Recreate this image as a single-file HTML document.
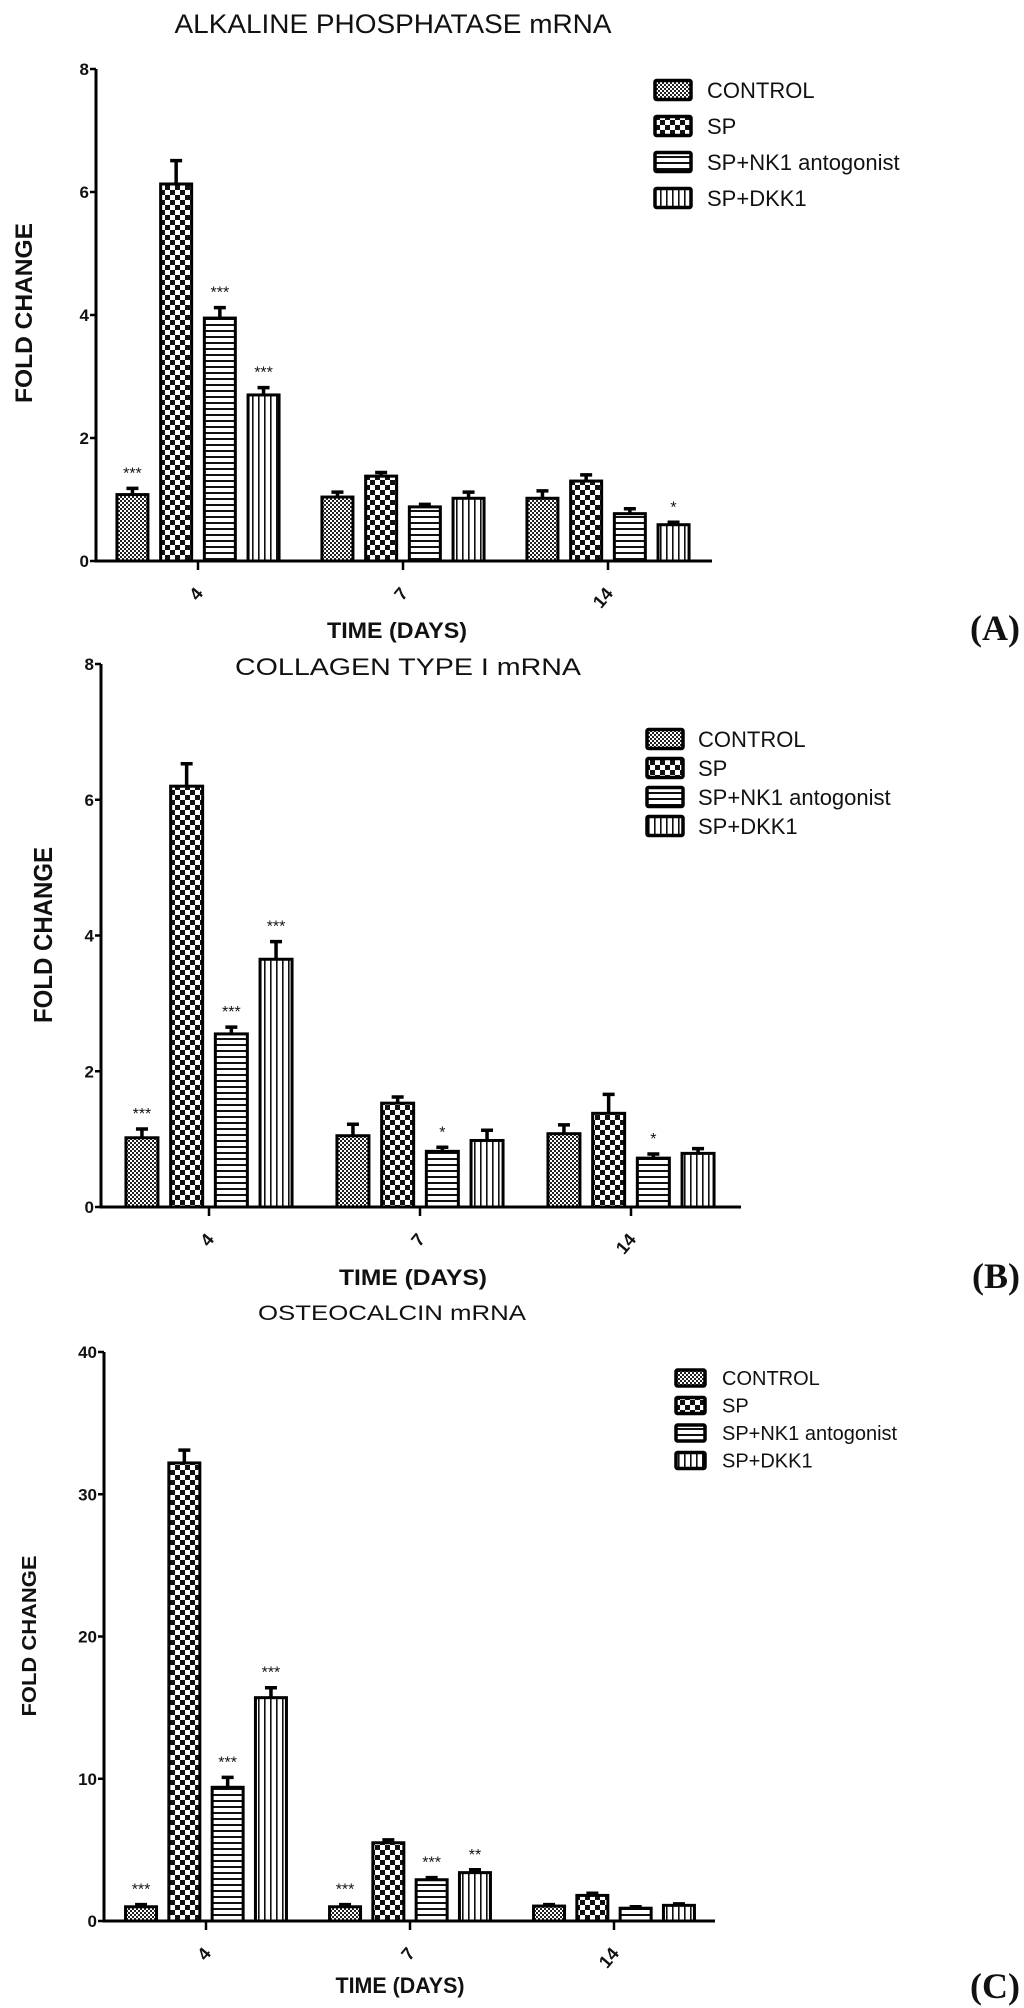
<!DOCTYPE html>
<html><head><meta charset="utf-8"><style>
html,body{margin:0;padding:0;background:#fff;}
svg{display:block;}
text{font-family:"Liberation Sans",Arial,sans-serif;fill:#111;}
</style></head>
<body>
<svg id="fig" width="1024" height="2008" viewBox="0 0 1024 2008" xmlns="http://www.w3.org/2000/svg">
<defs>
<pattern id="pCtrl" width="4" height="4" patternUnits="userSpaceOnUse"><rect width="4" height="4" fill="#fff"/><rect width="2" height="2" fill="#222"/><rect x="2" y="2" width="2" height="2" fill="#222"/></pattern>
<pattern id="pSP" width="10" height="10" patternUnits="userSpaceOnUse"><rect width="10" height="10" fill="#fff"/><rect width="5" height="5" fill="#111"/><rect x="5" y="5" width="5" height="5" fill="#111"/></pattern>
<pattern id="pNK" width="6" height="6" patternUnits="userSpaceOnUse"><rect width="6" height="6" fill="#fff"/><rect y="0" width="6" height="2" fill="#111"/></pattern>
<pattern id="pDKK" width="6" height="6" patternUnits="userSpaceOnUse"><rect width="6" height="6" fill="#fff"/><rect x="0" width="1.6" height="6" fill="#111"/></pattern>
</defs>
</svg>
<script>
// shared categories
const days = ["4", "7", "14"];
const seriesNames = ["CONTROL", "SP", "SP+NK1 antogonist", "SP+DKK1"];
// Panel A: ALKALINE PHOSPHATASE
const aControl = [1.08, 1.04, 1.02];
const aSP = [6.13, 1.38, 1.30];
const aNK1 = [3.95, 0.88, 0.77];
const aDKK1 = [2.70, 1.02, 0.59];
const aErr = [[0.10, 0.38, 0.17, 0.12], [0.08, 0.06, 0.04, 0.10], [0.12, 0.10, 0.08, 0.04]];
const aStars = [["***", "", "***", "***"], ["", "", "", ""], ["", "", "", "*"]];
const aTicks = [0, 2, 4, 6, 8];
// Panel B: COLLAGEN TYPE I
const bControl = [1.02, 1.05, 1.08];
const bSP = [6.20, 1.53, 1.38];
const bNK1 = [2.55, 0.82, 0.72];
const bDKK1 = [3.65, 0.98, 0.79];
const bErr = [[0.13, 0.33, 0.10, 0.26], [0.17, 0.09, 0.06, 0.15], [0.13, 0.28, 0.06, 0.07]];
const bStars = [["***", "", "***", "***"], ["", "", "*", ""], ["", "", "*", ""]];
const bTicks = [0, 2, 4, 6, 8];
// Panel C: OSTEOCALCIN
const cControl = [1.0, 1.0, 1.05];
const cSP = [32.2, 5.5, 1.8];
const cNK1 = [9.4, 2.9, 0.9];
const cDKK1 = [15.7, 3.4, 1.1];
const cErr = [[0.15, 0.9, 0.7, 0.7], [0.15, 0.2, 0.15, 0.2], [0.1, 0.15, 0.1, 0.1]];
const cStars = [["***", "", "***", "***"], ["***", "", "***", "**"], ["", "", "", ""]];
const cTicks = [0, 10, 20, 30, 40];

const NS = "http://www.w3.org/2000/svg";
const svg = document.getElementById("fig");
const fills = ["url(#pCtrl)", "url(#pSP)", "url(#pNK)", "url(#pDKK)"];
function mk(tag, attrs, parent) {
  const e = document.createElementNS(NS, tag);
  for (const k in attrs) e.setAttribute(k, attrs[k]);
  (parent || svg).appendChild(e);
  return e;
}
function txt(str, attrs, parent) { const t = mk("text", attrs, parent); t.textContent = str; return t; }

function panel(cfg) {
  const g = mk("g", {});
  
  
  const yScale = v => cfg.y0 - (v - 0) / cfg.max * (cfg.y0 - cfg.yTop);
  const xTick = i => cfg.x4 + i * cfg.pitch;
  const t = txt(cfg.title, {x: cfg.titleX, y: cfg.titleY, "font-size": cfg.titleSize, "text-anchor": "middle", textLength: cfg.titleLen, lengthAdjust: "spacingAndGlyphs"}, g);
  
  
  const vals = [cfg.s0, cfg.s1, cfg.s2, cfg.s3];
  for (let d = 0; d < days.length; d++) {
    for (let s = 0; s < 4; s++) {
      const v = vals[s][d];
      const cx = xTick(d) + (s - 1.5) * cfg.bp;
      const top = yScale(v);
      const r = mk("rect", {x: cx - cfg.bw / 2, y: top, width: cfg.bw, height: cfg.y0 - top, fill: fills[s], stroke: "#000", "stroke-width": 3}, g);
      
      
      const et = yScale(v + cfg.err[d][s]);
      const el = mk("path", {d: `M${cx} ${top} V${et} M${cx - 6} ${et} H${cx + 6}`, stroke: "#000", "stroke-width": 3.5, fill: "none"}, g);
      
      
      if (cfg.stars[d][s]) {
        const st = txt(cfg.stars[d][s], {x: cx, y: et - 10, "font-size": 16, "text-anchor": "middle", fill: "#333"}, g);
        
        
      }
    }
  }
  const ax = mk("path", {d: `M${cfg.ax} ${cfg.yTop} V${cfg.y0} H${cfg.xEnd}`, stroke: "#000", "stroke-width": 3, fill: "none"}, g);
  
  
  cfg.ticks.forEach(tv => {
    const y = yScale(tv);
    mk("line", {x1: cfg.ax - 6, x2: cfg.ax, y1: y, y2: y, stroke: "#000", "stroke-width": 2.5}, g);
    const tl = txt(String(tv), {x: cfg.ax - 7, y: y + 6, "font-size": 17, "font-weight": "bold", "text-anchor": "end"}, g);
    
    
  });
  days.forEach((dname, i) => {
    const x = xTick(i);
    mk("line", {x1: x, x2: x, y1: cfg.y0, y2: cfg.y0 + 9, stroke: "#000", "stroke-width": 2.5}, g);
    const ly = cfg.y0 + 33;
    const tl = txt(dname, {x: x + 6, y: ly, "font-size": 18, "font-weight": "bold", "text-anchor": "end", transform: `rotate(-50 ${x + 6} ${ly})`}, g);
    
    
  });
  const xl = txt("TIME (DAYS)", {x: cfg.xlX, y: cfg.xlY, "font-size": 22, "font-weight": "bold", "text-anchor": "middle", textLength: cfg.xlLen, lengthAdjust: "spacingAndGlyphs"}, g);
  
  
  const yl = txt("FOLD CHANGE", {x: 0, y: 0, "font-size": cfg.ylSize, "font-weight": "bold", "text-anchor": "middle", textLength: cfg.ylLen, lengthAdjust: "spacingAndGlyphs", transform: `translate(${cfg.ylX} ${cfg.ylY}) rotate(-90)`}, g);
  
  
  seriesNames.forEach((n, i) => {
    const y = cfg.legY + i * cfg.legSp;
    const sw = mk("rect", {x: cfg.legX, y: y - cfg.swH / 2, width: cfg.swW, height: cfg.swH, fill: fills[i], stroke: "#000", "stroke-width": 3.5, rx: 1.5}, g);
    
    
    const lt = txt(n, {x: cfg.legTX, y: y + cfg.legFs * 0.36, "font-size": cfg.legFs}, g);
    
    
  });
  const pl = txt(cfg.tag, {x: 1020, y: cfg.tagY, "font-size": 36, "font-weight": "bold", "text-anchor": "end", style: "font-family:'Liberation Serif',serif"}, g);
  
  
}

panel({id: "alkaline-phosphatase", title: "ALKALINE PHOSPHATASE mRNA", titleX: 393, titleY: 33, titleSize: 27, titleLen: 437,
  s0: aControl, s1: aSP, s2: aNK1, s3: aDKK1, err: aErr, stars: aStars, ticks: aTicks, max: 8,
  y0: 561, yTop: 69, ax: 96, xEnd: 712, x4: 198, pitch: 205, bp: 43.7, bw: 31,
  xlX: 397, xlY: 638, xlLen: 140, ylX: 32, ylY: 313, ylSize: 24, ylLen: 180,
  legX: 655, legY: 90, legSp: 36, swW: 36, swH: 19, legTX: 707, legFs: 22, tag: "(A)", tagY: 640});
panel({id: "collagen-type-i", title: "COLLAGEN TYPE I mRNA", titleX: 408, titleY: 675, titleSize: 24, titleLen: 346,
  s0: bControl, s1: bSP, s2: bNK1, s3: bDKK1, err: bErr, stars: bStars, ticks: bTicks, max: 8,
  y0: 1207, yTop: 664, ax: 101, xEnd: 741, x4: 209, pitch: 211, bp: 44.7, bw: 32,
  xlX: 413, xlY: 1285, xlLen: 148, ylX: 52, ylY: 935, ylSize: 26, ylLen: 176,
  legX: 647, legY: 739, legSp: 29, swW: 36, swH: 19, legTX: 698, legFs: 22, tag: "(B)", tagY: 1288});
panel({id: "osteocalcin", title: "OSTEOCALCIN mRNA", titleX: 392, titleY: 1320, titleSize: 21, titleLen: 268,
  s0: cControl, s1: cSP, s2: cNK1, s3: cDKK1, err: cErr, stars: cStars, ticks: cTicks, max: 40,
  y0: 1921, yTop: 1352, ax: 104, xEnd: 715, x4: 206, pitch: 204, bp: 43.3, bw: 31,
  xlX: 400, xlY: 1993, xlLen: 129, ylX: 36, ylY: 1636, ylSize: 20, ylLen: 161,
  legX: 676, legY: 1378, legSp: 27.5, swW: 29, swH: 16, legTX: 722, legFs: 20, tag: "(C)", tagY: 1998});
</script>
</body></html>
